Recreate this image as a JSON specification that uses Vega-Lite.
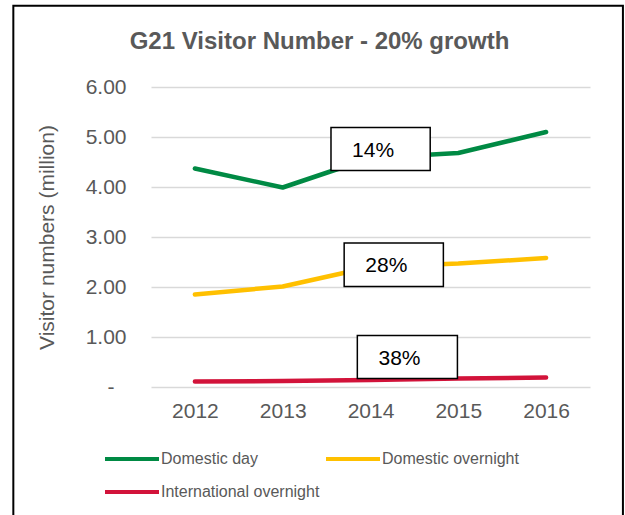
{
  "$schema": "https://vega.github.io/schema/vega-lite/v6.json",
  "width": 439,
  "height": 300,
  "autosize": {"type": "none"},
  "padding": {"left": 151, "top": 87, "right": 35, "bottom": 128},
  "background": "white",
  "config": {
    "font": "Liberation Sans",
    "view": {"stroke": null},
    "axis": {"labelColor": "#595959", "titleColor": "#595959", "labelFont": "Liberation Sans", "titleFont": "Liberation Sans"}
  },
  "title": {
    "text": "G21 Visitor Number - 20% growth",
    "fontSize": 24,
    "fontWeight": "bold",
    "color": "#595959",
    "font": "Liberation Sans",
    "anchor": "middle",
    "frame": "group",
    "dx": -51,
    "baseline": "alphabetic",
    "offset": -68
  },
  "datasets": {
    "visitors": [
      {"year": 2012, "series": "Domestic day", "value": 4.37},
      {"year": 2013, "series": "Domestic day", "value": 3.99},
      {"year": 2014, "series": "Domestic day", "value": 4.58},
      {"year": 2015, "series": "Domestic day", "value": 4.68},
      {"year": 2016, "series": "Domestic day", "value": 5.10},
      {"year": 2012, "series": "Domestic overnight", "value": 1.85},
      {"year": 2013, "series": "Domestic overnight", "value": 2.01},
      {"year": 2014, "series": "Domestic overnight", "value": 2.40},
      {"year": 2015, "series": "Domestic overnight", "value": 2.47},
      {"year": 2016, "series": "Domestic overnight", "value": 2.58},
      {"year": 2012, "series": "International overnight", "value": 0.11},
      {"year": 2013, "series": "International overnight", "value": 0.12},
      {"year": 2014, "series": "International overnight", "value": 0.14},
      {"year": 2015, "series": "International overnight", "value": 0.17},
      {"year": 2016, "series": "International overnight", "value": 0.19}
    ],
    "boxes": [
      {"label": "14%", "x1": 2013.55, "x2": 2014.68, "y1": 4.33, "y2": 5.19, "tx": 2014.03, "ty": 4.72},
      {"label": "28%", "x1": 2013.70, "x2": 2014.83, "y1": 2.01, "y2": 2.88, "tx": 2014.18, "ty": 2.43},
      {"label": "38%", "x1": 2013.85, "x2": 2014.99, "y1": 0.17, "y2": 1.03, "tx": 2014.33, "ty": 0.56}
    ],
    "frame": [{"fx1": 2009.932, "fx2": 2016.875, "fy1": 7.624, "fy2": -3}]
  },
  "layer": [
    {
      "data": {"name": "visitors"},
      "mark": {"type": "line", "strokeWidth": 4.5, "strokeCap": "round", "strokeJoin": "round"},
      "encoding": {
        "x": {
          "field": "year",
          "type": "quantitative",
          "scale": {"domain": [2011.5, 2016.5], "nice": false, "zero": false},
          "axis": {"title": null, "values": [2012, 2013, 2014, 2015, 2016], "format": "d", "grid": false, "domain": false, "ticks": false, "labelFontSize": 21, "labelPadding": 13, "labelFlush": false}
        },
        "y": {
          "field": "value",
          "type": "quantitative",
          "scale": {"domain": [0, 6], "nice": false},
          "axis": {
            "title": "Visitor numbers (million)",
            "titleFontSize": 21,
            "titleFontWeight": "normal",
            "titlePadding": 28,
            "values": [0, 1, 2, 3, 4, 5, 6],
            "labelExpr": "datum.value == 0 ? '-' : format(datum.value, '.2f')",
            "labelFontSize": 21,
            "labelPadding": {"condition": {"test": "datum.value == 0", "value": 37}, "value": 25},
            "domain": false,
            "ticks": false,
            "grid": true,
            "gridColor": "#d9d9d9",
            "gridWidth": 1.5
          }
        },
        "color": {
          "field": "series",
          "type": "nominal",
          "scale": {"domain": ["Domestic day", "Domestic overnight", "International overnight"], "range": ["#008A44", "#FFC000", "#D2133A"]},
          "legend": {
            "title": null,
            "orient": "none",
            "legendX": -31,
            "legendY": 360,
            "direction": "horizontal",
            "columns": 2,
            "padding": 0,
            "symbolType": "M-2.7,0H2.7",
            "symbolSize": 400,
            "symbolStrokeWidth": 4,
            "labelOffset": 17,
            "labelFontSize": 16,
            "labelColor": "#595959",
            "labelFont": "Liberation Sans",
            "columnPadding": -2,
            "rowPadding": 13,
            "labelLimit": 300
          }
        }
      }
    },
    {
      "data": {"name": "boxes"},
      "mark": {"type": "rect", "fill": "white", "stroke": "black", "strokeWidth": 1.5},
      "encoding": {
        "x": {"field": "x1", "type": "quantitative"},
        "x2": {"field": "x2"},
        "y": {"field": "y1", "type": "quantitative"},
        "y2": {"field": "y2"}
      }
    },
    {
      "data": {"name": "boxes"},
      "mark": {"type": "text", "fontSize": 21, "color": "black", "font": "Liberation Sans", "align": "center", "baseline": "middle"},
      "encoding": {
        "x": {"field": "tx", "type": "quantitative"},
        "y": {"field": "ty", "type": "quantitative"},
        "text": {"field": "label"}
      }
    },
    {
      "data": {"name": "frame"},
      "mark": {"type": "rect", "fill": null, "fillOpacity": 0, "stroke": "black", "strokeWidth": 2, "clip": false},
      "encoding": {
        "x": {"field": "fx1", "type": "quantitative"},
        "x2": {"field": "fx2"},
        "y": {"field": "fy1", "type": "quantitative"},
        "y2": {"field": "fy2"}
      }
    }
  ]
}
